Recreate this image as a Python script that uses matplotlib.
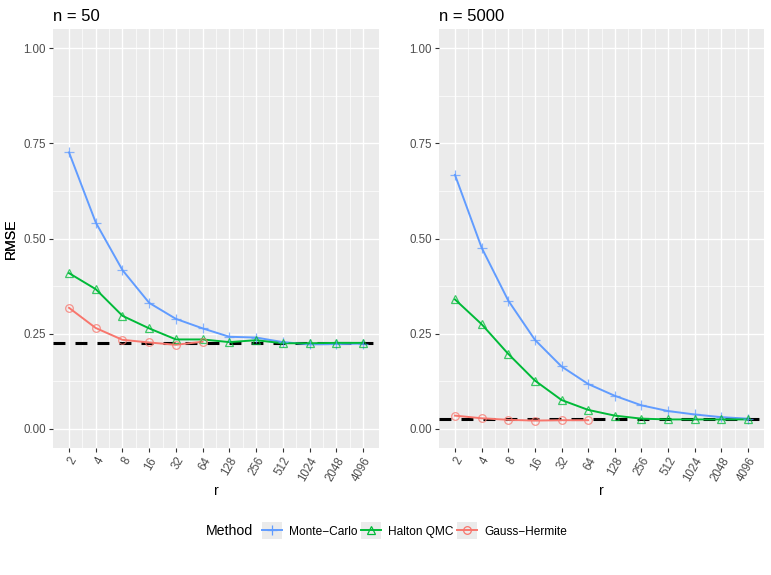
import matplotlib
matplotlib.use("Agg")
import matplotlib.pyplot as plt
import numpy as np
from matplotlib.lines import Line2D
from matplotlib.patches import Rectangle
from matplotlib.legend_handler import HandlerLine2D

plt.rcParams['font.family'] = ['Liberation Sans', 'DejaVu Sans']

r_labels = ["2", "4", "8", "16", "32", "64", "128", "256", "512", "1024", "2048", "4096"]
methods = ["Monte\u2212Carlo", "Halton QMC", "Gauss\u2212Hermite"]

# n = 50
mc_50 = [0.726, 0.542, 0.417, 0.331, 0.289, 0.264, 0.242, 0.240, 0.228, 0.222, 0.223, 0.224]
qmc_50 = [0.409, 0.367, 0.297, 0.264, 0.235, 0.235, 0.228, 0.233, 0.225, 0.225, 0.226, 0.226]
gh_50 = [0.318, 0.265, 0.234, 0.227, 0.221, 0.229]
ref_50 = 0.225

# n = 5000
mc_5000 = [0.667, 0.476, 0.337, 0.234, 0.164, 0.118, 0.087, 0.062, 0.047, 0.038, 0.031, 0.027]
qmc_5000 = [0.340, 0.275, 0.197, 0.127, 0.076, 0.050, 0.035, 0.027, 0.025, 0.025, 0.025, 0.025]
gh_5000 = [0.035, 0.028, 0.024, 0.022, 0.023, 0.023]
ref_5000 = 0.025

panels = [("n = 50", [mc_50, qmc_50, gh_50], ref_50),
          ("n = 5000", [mc_5000, qmc_5000, gh_5000], ref_5000)]

colors = ["#619CFF", "#00BA38", "#F8766D"]
markers = ["+", "^", "o"]
msizes = [7, 5.5, 5.5]

W, H = 771, 575
fig = plt.figure(figsize=(W / 100, H / 100), dpi=100)

ax_rects = [(53, 29, 379, 448), (439, 29, 764, 448)]

for (title, series, ref), (x0, y0, x1, y1) in zip(panels, ax_rects):
    ax = fig.add_axes([x0 / W, 1 - y1 / H, (x1 - x0) / W, (y1 - y0) / H])
    ax.set_facecolor("#EBEBEB")
    for s in ax.spines.values():
        s.set_visible(False)
    xpos = np.arange(len(r_labels))
    ax.set_xlim(-0.6, len(r_labels) - 0.4)
    ax.set_ylim(-0.05, 1.05)
    ax.set_xticks(xpos)
    ax.set_xticklabels(r_labels, rotation=60, ha="right", rotation_mode="anchor")
    ax.set_xticks(xpos[:-1] + 0.5, minor=True)
    ax.set_yticks([0, 0.25, 0.5, 0.75, 1.0])
    ax.set_yticklabels(["0.00", "0.25", "0.50", "0.75", "1.00"])
    ax.set_yticks([0.125, 0.375, 0.625, 0.875], minor=True)
    ax.grid(which="major", color="white", linewidth=1.0)
    ax.grid(which="minor", color="white", linewidth=0.5)
    ax.set_axisbelow(True)
    ax.tick_params(which="major", length=3, width=0.8, color="#333333",
                   labelcolor="#4D4D4D", labelsize=8.3, pad=2)
    ax.tick_params(which="minor", length=0)
    ax.axhline(ref, color="black", linewidth=2.2, dashes=(3.9, 3.3), zorder=1.5)
    for vals, c in zip(series, colors):
        ax.plot(xpos[:len(vals)], vals, color=c, linewidth=1.4, zorder=2)
    for vals, c, m, ms in zip(series, colors, markers, msizes):
        ax.plot(xpos[:len(vals)], vals, linestyle="none", marker=m, markersize=ms,
                markerfacecolor="none", markeredgecolor=c, markeredgewidth=0.9,
                alpha=0.75, zorder=3)
    ax.set_title(title, loc="left", fontsize=12, pad=6)
    ax.set_ylabel("RMSE", fontsize=10.2)
    ax.yaxis.set_label_coords((18 - x0) / (x1 - x0), 0.5)
    ax.set_xlabel("r", fontsize=10.2)
    ax.xaxis.set_label_coords(0.5, (y1 - 484) / (y1 - y0))


class KeyHandler(HandlerLine2D):
    def create_artists(self, legend, orig_handle, xdescent, ydescent, width, height,
                       fontsize, trans):
        arts = super().create_artists(legend, orig_handle, xdescent, ydescent,
                                      width, height, fontsize, trans)
        rect = Rectangle((-xdescent, -ydescent - height * 0.2), width, height * 1.4,
                         facecolor="#EBEBEB", edgecolor="none", transform=trans)
        return [rect] + arts


handles = [Line2D([0], [0], color=c, linewidth=1.4, marker=m, markersize=ms,
                  markerfacecolor="none", markeredgecolor=c, markeredgewidth=0.9)
           for c, m, ms in zip(colors, markers, msizes)]

fig.text(206 / W, 1 - 531 / H, "Method", fontsize=10.2, va="center", ha="left")
leg = fig.legend(handles, methods, loc="center left",
                 bbox_to_anchor=(262 / W, 1 - 531 / H), ncol=3, frameon=False,
                 fontsize=8.6, handlelength=1.67, handleheight=1.2,
                 handletextpad=0.6, columnspacing=0.3, borderpad=0, borderaxespad=0,
                 numpoints=1,
                 handler_map={Line2D: KeyHandler(numpoints=1)})

fig.savefig("out.png", dpi=100)
